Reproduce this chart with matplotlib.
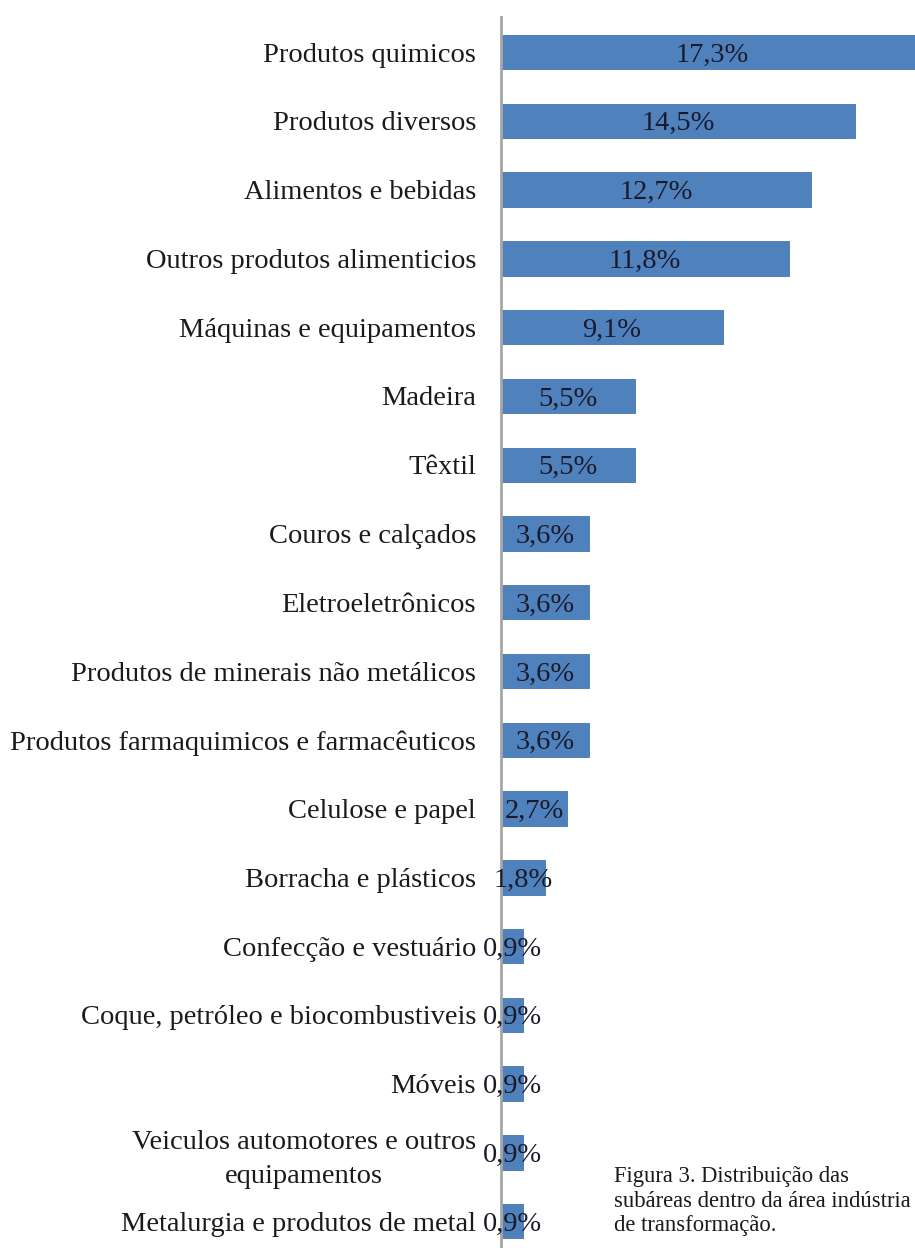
import matplotlib
matplotlib.use("Agg")
import matplotlib.pyplot as plt

categories = [
    "Produtos quimicos",
    "Produtos diversos",
    "Alimentos e bebidas",
    "Outros produtos alimenticios",
    "Máquinas e equipamentos",
    "Madeira",
    "Têxtil",
    "Couros e calçados",
    "Eletroeletrônicos",
    "Produtos de minerais não metálicos",
    "Produtos farmaquimicos e farmacêuticos",
    "Celulose e papel",
    "Borracha e plásticos",
    "Confecção e vestuário",
    "Coque, petróleo e biocombustiveis",
    "Móveis",
    "Veiculos automotores e outros\nequipamentos",
    "Metalurgia e produtos de metal",
]
values = [17.3, 14.5, 12.7, 11.8, 9.1, 5.5, 5.5, 3.6, 3.6, 3.6, 3.6, 2.7, 1.8, 0.9, 0.9, 0.9, 0.9, 0.9]
value_labels = ["17,3%", "14,5%", "12,7%", "11,8%", "9,1%", "5,5%", "5,5%", "3,6%", "3,6%",
                "3,6%", "3,6%", "2,7%", "1,8%", "0,9%", "0,9%", "0,9%", "0,9%", "0,9%"]
caption = "Figura 3. Distribuição das\nsubáreas dentro da área indústria\nde transformação."

plt.rcParams['font.family'] = ['Liberation Serif', 'DejaVu Serif']

W, H = 915, 1248
fig = plt.figure(figsize=(W / 100, H / 100), dpi=100)
x0 = 501 / W
ax = fig.add_axes([x0, 0.0, 1 - x0, (H - 17) / H])

ypos = list(range(len(categories)))
ax.barh(ypos, values, height=0.5, color="#4F81BD", edgecolor="#4575b0", linewidth=0.6)
ax.set_xlim(0, (W - 501) / 24.4)
ax.set_ylim(17.39, -0.51)

for y, v, lab in zip(ypos, values, value_labels):
    ax.text(v / 2, y, lab, ha="center", va="center_baseline", fontsize=20.5,
            color="#1a1a2a", clip_on=False)

ax.set_yticks(ypos)
ax.set_yticklabels(categories, fontsize=20.5, color="#1a1a1a", multialignment="center",
                   linespacing=1.45)
ax.tick_params(axis="y", length=0, pad=18)
ax.set_xticks([])
for s in ["top", "right", "bottom"]:
    ax.spines[s].set_visible(False)
ax.spines["left"].set_color("#a6a6a6")
ax.spines["left"].set_linewidth(2)

fig.text(614 / W, 1 - 1166 / H, caption, ha="left", va="top", fontsize=16.3,
         color="#1a1a1a", linespacing=1.22)

fig.savefig("out.png", dpi=100)
